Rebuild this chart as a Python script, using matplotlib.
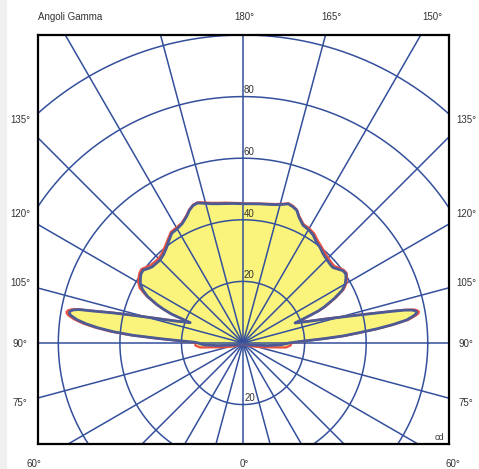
import numpy as np
import matplotlib
matplotlib.use("Agg")
import matplotlib.pyplot as plt
from matplotlib.patches import Rectangle

plt.rcParams['font.family'] = ['Liberation Sans', 'DejaVu Sans']

# Gamma angles (deg, 0 = down, 180 = up)
gamma = [0, 30, 60, 70, 75, 80, 84, 87, 89, 90, 91, 92, 93, 94, 95, 96, 97, 98, 99, 99.5, 100,
         100.5, 101, 101.5, 102, 103, 104, 105, 106, 108, 110, 111, 112, 113, 114, 116, 118, 120, 122,
         124, 126, 128, 130, 132, 135, 138, 141, 144, 147, 150, 153, 156, 158, 160, 162,
         164, 167, 170, 173, 176, 180]

# Blue curve, left half (C180) and right half (C0), cd
blue_left = [0.3, 0.3, 0.8, 1.5, 2.5, 4, 8, 12.5, 14, 14.5, 16, 20.5, 27, 36, 42.5, 47.5, 51.5, 54.5, 56.5, 57.1, 57.3,
             57.0, 56.2, 54.5, 50, 43.5, 37.5, 32.5, 28.5, 23, 19.8, 18.4, 25, 28, 30.5, 34.5, 37, 38.5, 39.3,
             40, 40.2, 39.2, 38.5, 38.3, 38.1, 38.6, 39.6, 41, 42.5, 42.8, 43.5, 45, 46.5, 47.5, 47.8,
             47.2, 46.4, 45.9, 45.6, 45.4, 45.2]
blue_right = [0.3, 0.3, 0.8, 1.5, 2.5, 4, 8, 12, 14, 15, 17, 20.5, 26, 32.5, 37.5, 43.5, 49, 53.7, 56, 56.9, 57.3,
              57.0, 56, 53.5, 49.5, 42, 36.5, 32, 28.5, 23, 19.5, 18.1, 22, 26.5, 29, 33, 36.5, 38.3, 39.4,
              40.3, 40, 39, 38.1, 38.1, 38.4, 38.9, 39.8, 40.5, 41.8, 42.5, 42.9, 44.7, 46.5, 47.1, 47.5,
              46.8, 46.1, 45.7, 45.5, 45.3, 45.2]

# Red curve, left half (C270) and right half (C90), cd
red_left = [0.3, 0.5, 1.2, 3, 5, 8, 14, 15.5, 15.5, 15.5, 17, 21.5, 28, 37, 43.5, 48.5, 52.5, 55.5, 57.5, 58, 58.2,
            57.9, 57, 55, 50.5, 44, 38, 33, 29, 23.5, 20, 18.6, 25.5, 28.5, 31, 35, 38, 39.3, 40,
            40.6, 40.8, 40, 39.3, 39, 38.8, 39.3, 40.3, 41.6, 43, 43.3, 43.8, 45.3, 46.7, 47.7, 48,
            47.5, 46.7, 46.2, 45.9, 45.6, 45.4]
red_right = [0.3, 0.5, 1.2, 3, 5, 8, 14, 15.5, 15.5, 16, 17.5, 21, 26.5, 33, 38, 44, 49.5, 54.3, 56.7, 57.7, 58,
             57.7, 56.8, 54.2, 50, 42.5, 37, 32.5, 29, 23.5, 19.8, 18.3, 22.5, 27, 29.5, 33.5, 37, 38.8, 39.8,
             40.6, 40.4, 39.6, 38.8, 38.8, 39.1, 39.6, 40.4, 41.2, 42.4, 43, 43.3, 45, 46.7, 47.4, 47.7,
             47, 46.3, 45.9, 45.6, 45.4, 45.3]

ring_values = [20, 40, 60, 80, 100, 120]
ring_labels = ["20", "40", "60", "80"]
top_labels = ["180°", "165°", "150°"]
side_labels = ["135°", "120°", "105°", "90°", "75°"]
bottom_labels = ["60°", "0°", "60°"]

GRID = '#34509c'
BLUE = '#4c5a96'
RED = '#ec5040'
YELLOW = '#faf47c'
TXT = '#333333'

W, H = 479, 469
fig = plt.figure(figsize=(W / 100, H / 100), dpi=100)
fig.patches.append(Rectangle((0, 0), 6 / W, 1, transform=fig.transFigure,
                             color='#f0f0f0', zorder=0))
ax = fig.add_axes([38 / W, 25 / H, 411 / W, 409 / H])
ax.set_xlim(-66.6, 66.9)
ax.set_ylim(-32.8, 100.0)
ax.set_xticks([])
ax.set_yticks([])
for s in ax.spines.values():
    s.set_linewidth(1.6)
    s.set_color('black')
    s.set_zorder(10)


def closed_curve(left, right):
    g = np.radians(np.array(gamma, dtype=float))
    rl = np.array(left, dtype=float)
    rr = np.array(right, dtype=float)
    xr = rr * np.sin(g)
    yr = -rr * np.cos(g)
    xl = -rl[::-1] * np.sin(g[::-1])
    yl = -rl[::-1] * np.cos(g[::-1])
    return np.concatenate([xr, xl]), np.concatenate([yr, yl])


xb, yb = closed_curve(blue_left, blue_right)
xr_, yr_ = closed_curve(red_left, red_right)

ax.fill(xr_, yr_, color=YELLOW, lw=0, zorder=1)
ax.fill(xb, yb, color=YELLOW, lw=0, zorder=1)

# grid
t = np.linspace(0, 2 * np.pi, 1441)
for r in ring_values:
    ax.plot(r * np.cos(t), r * np.sin(t), color=GRID, lw=1.1, zorder=2)
for a in range(0, 360, 15):
    ar = np.radians(a)
    ax.plot([0, 250 * np.sin(ar)], [0, 250 * np.cos(ar)], color=GRID, lw=1.1, zorder=2)

ax.plot(xr_, yr_, color=RED, lw=1.6, zorder=3, solid_joinstyle='round')
ax.plot(xb, yb, color=BLUE, lw=2.0, zorder=4, solid_joinstyle='round')

for lab in ring_labels:
    v = float(lab)
    ax.text(0.2, v + 0.4, lab, ha='left', va='bottom', fontsize=7, color=TXT, zorder=6)
ax.text(0.4, -20 + 0.4, "20", ha='left', va='bottom', fontsize=7, color=TXT, zorder=6)
ax.text(65.5, -30.8, "cd", ha='right', va='center', fontsize=6.5, color=TXT, zorder=6)


def ftext(x, y, s, **kw):
    fig.text(x / W, 1 - y / H, s, fontsize=7, color=TXT, **kw)


ftext(38, 17, "Angoli Gamma", ha='left', va='center')
for s, x in zip(top_labels, [244, 331, 432]):
    ftext(x, 17, s, ha='center', va='center')
for s, y in zip(side_labels, [120, 214, 283, 344, 403]):
    ftext(20, y, s, ha='center', va='center')
    ftext(466, y, s, ha='center', va='center')
for s, x in zip(bottom_labels, [34, 244, 453]):
    ftext(x, 464, s, ha='center', va='center')

fig.savefig("out.png", dpi=100, facecolor='white')
